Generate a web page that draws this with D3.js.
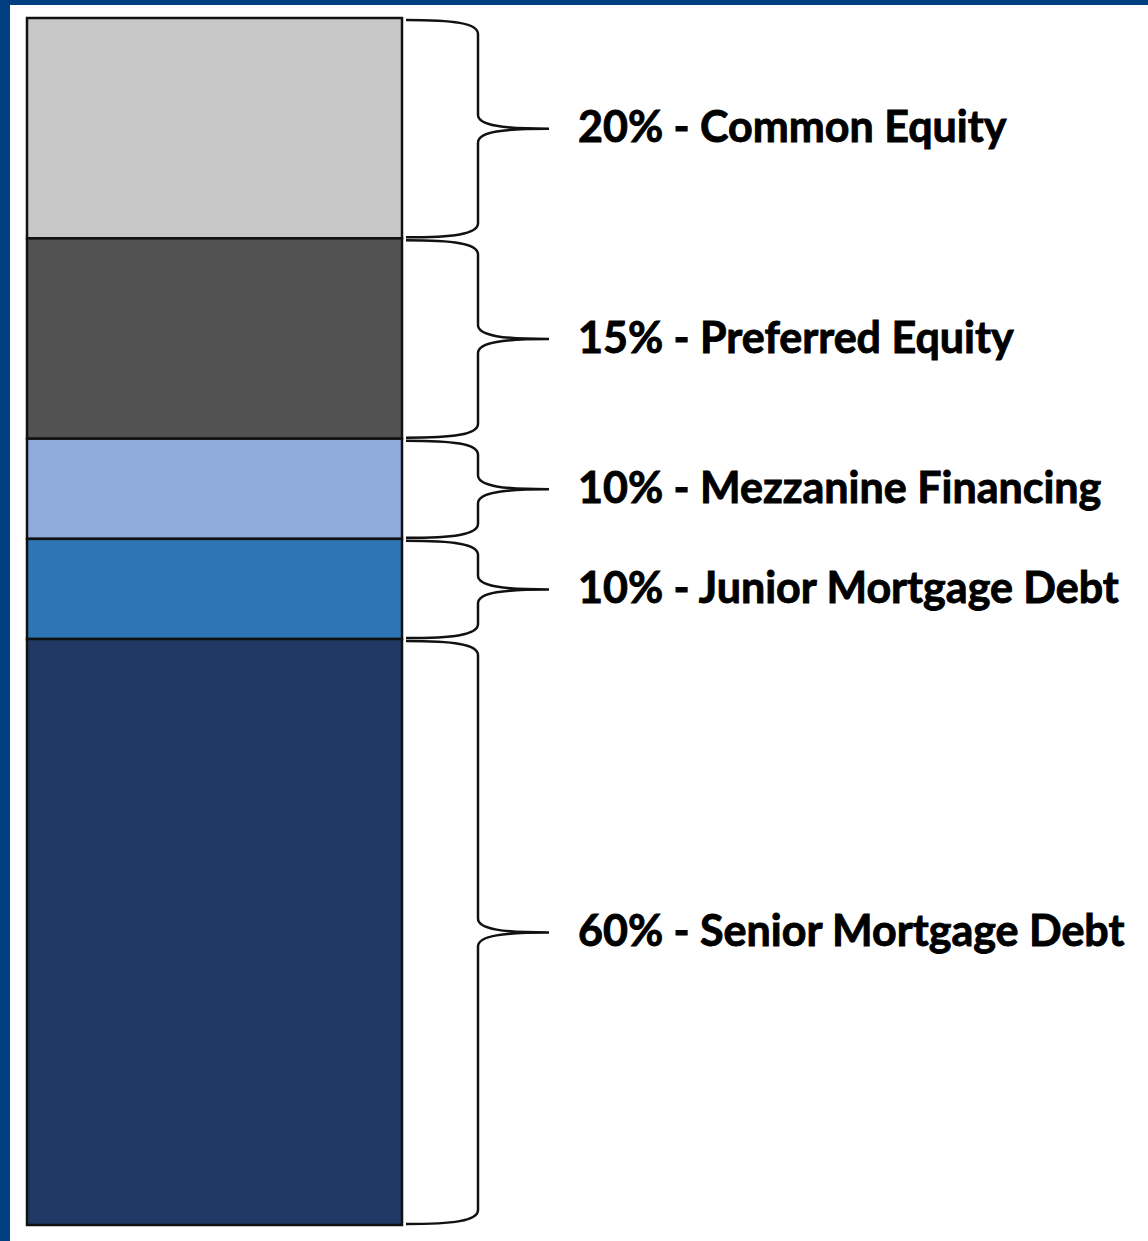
<!DOCTYPE html>
<html>
  <head>
    <meta charset="utf-8">
    <title>Capital Stack</title>
    <style>
      body { margin: 0; background: white; }
      .frame { fill: #003e80; }
      .seg { stroke: #111; stroke-width: 2.5; }
      .brace { fill: none; stroke: #111; stroke-width: 2.5; }
      .label { font-family: Lato, "Open Sans", sans-serif; font-weight: 700; font-size: 43px; fill: #000; stroke: #000; stroke-width: 0.9; }
    </style>
  </head>
  <body>
    <svg width="1148" height="1241"></svg>
    <script src="https://cdn.jsdelivr.net/npm/d3@7"></script>
    <script type="application/javascript">
      // top to bottom
      const tranches = ['Common Equity', 'Preferred Equity', 'Mezzanine Financing', 'Junior Mortgage Debt', 'Senior Mortgage Debt'];
      const percents = [20, 15, 10, 10, 60];
      // drawn height of each block (not proportional to the %)
      const blockSize = [22, 20, 10, 10, 58.5];
      const colors = ['#c8c8c8', '#525252', '#8faadc', '#2e75b6', '#203864'];

      const svg = d3.select('svg');
      const width = +svg.attr('width');
      const height = +svg.attr('height');

      svg.append('rect').attr('class', 'frame')
        .attr('x', 0).attr('y', 0).attr('width', width).attr('height', 5);
      svg.append('rect').attr('class', 'frame')
        .attr('x', 0).attr('y', 0).attr('width', 10).attr('height', height);

      const data = tranches.map((name, i) => ({
        name, pct: percents[i], size: blockSize[i], color: colors[i],
        start: d3.sum(blockSize.slice(0, i))
      }));

      const y = d3.scaleLinear()
        .domain([0, d3.sum(blockSize)])
        .range([18, 1225]);

      const barLeft = 27, barRight = 402;

      svg.append('g')
        .selectAll('rect')
        .data(data)
        .enter()
          .append('rect')
          .attr('class', 'seg')
          .attr('x', barLeft)
          .attr('width', barRight - barLeft)
          .attr('y', d => y(d.start))
          .attr('height', d => y(d.start + d.size) - y(d.start))
          .style('fill', d => d.color);

      // curly braces to the right of each block
      const x0 = 406, xm = 478, xt = 549, r = 14;
      function brace(y0, y1) {
        const ym = (y0 + y1) / 2;
        return `M${x0},${y0} C${xm - 25},${y0} ${xm},${y0 + 3} ${xm},${y0 + r}` +
          ` L${xm},${ym - r} C${xm},${ym - 3} ${xt - 45},${ym} ${xt},${ym}` +
          ` C${xt - 45},${ym} ${xm},${ym + 3} ${xm},${ym + r}` +
          ` L${xm},${y1 - r} C${xm},${y1 - 3} ${xm - 25},${y1} ${x0},${y1}`;
      }

      svg.append('g')
        .selectAll('path')
        .data(data)
        .enter()
          .append('path')
          .attr('class', 'brace')
          .attr('d', d => brace(y(d.start) + 2, y(d.start + d.size) - 1));

      svg.append('g')
        .selectAll('text')
        .data(data)
        .enter()
          .append('text')
          .attr('class', 'label')
          .attr('x', 578)
          .attr('y', d => y(d.start + d.size / 2))
          .attr('dy', '0.33em')
          .text(d => `${d.pct}% - ${d.name}`);
    </script>
  </body>
</html>
